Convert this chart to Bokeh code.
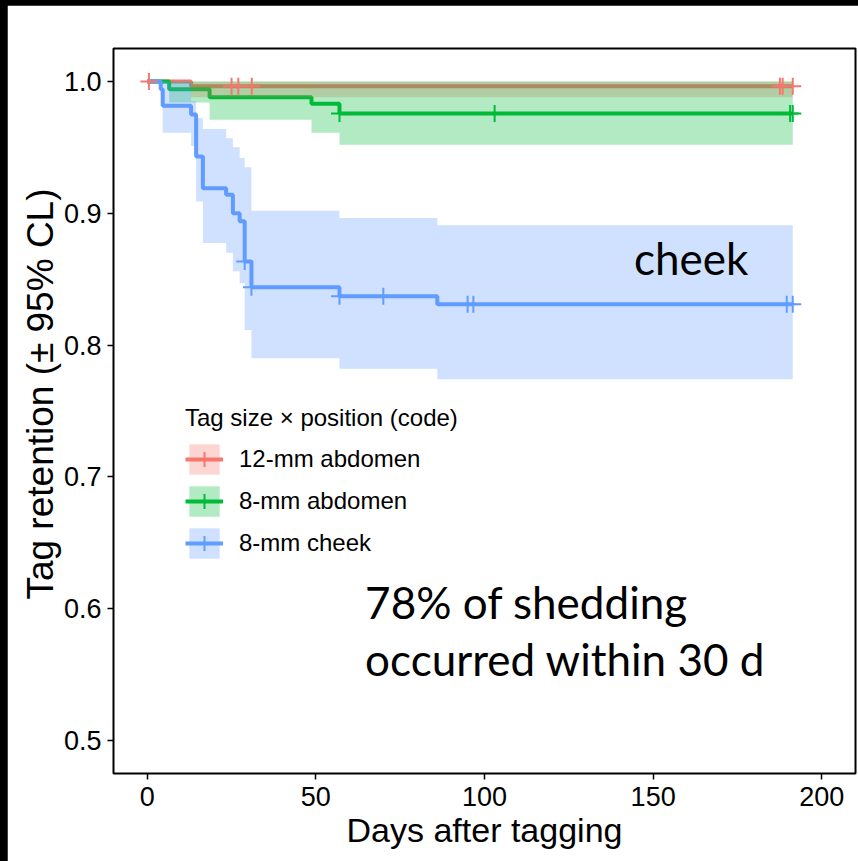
import numpy as np
from bokeh.plotting import figure
from bokeh.models import Legend, LegendItem, Label, FixedTicker, Range1d, Title
from bokeh.layouts import column
from bokeh.embed import file_html
from bokeh.resources import INLINE

# ---- Kaplan-Meier tag retention, step values (start day of each step) ----
groups = ["12-mm abdomen", "8-mm abdomen", "8-mm cheek"]
colors = ["#F8766D", "#00BA38", "#619CFF"]

t_12abd = [0, 13, 191.4]
s_12abd = [1.0, 0.9963, 0.9963]
lo_12abd = [1.0, 0.988, 0.988]
hi_12abd = [1.0, 1.0, 1.0]
cens_12abd = [0.5, 25, 27, 31, 187.6, 188.4, 191.4]

t_8abd = [0, 6.5, 18.5, 48.7, 57, 191.4]
s_8abd = [1.0, 0.994, 0.988, 0.983, 0.9757, 0.9757]
lo_8abd = [1.0, 0.984, 0.971, 0.961, 0.952, 0.952]
hi_8abd = [1.0, 1.0, 1.0, 1.0, 1.0, 1.0]
cens_8abd = [57, 103, 190.6, 191.4]

t_cheek = [0, 4, 4.6, 13, 14.5, 16.5, 23.4, 25.4, 27.4, 28.9, 30.9, 57, 86, 191.4]
s_cheek = [1.0, 0.994, 0.9815, 0.975, 0.943, 0.919, 0.914, 0.900, 0.894,
           0.8635, 0.8438, 0.837, 0.831, 0.831]
lo_cheek = [1.0, 0.982, 0.961, 0.951, 0.909, 0.8775, 0.870, 0.856, 0.847,
            0.8115, 0.790, 0.782, 0.774, 0.774]
hi_cheek = [1.0, 1.0, 1.0, 0.985, 0.972, 0.964, 0.957, 0.950, 0.942,
            0.935, 0.902, 0.8965, 0.891, 0.891]
cens_cheek = [28.9, 30.9, 57, 70, 95, 96.7, 189.6, 191.4]

x_ticks = [0, 50, 100, 150, 200]
y_ticks = [0.5, 0.6, 0.7, 0.8, 0.9, 1.0]
y_tick_labels = ["0.5", "0.6", "0.7", "0.8", "0.9", "1.0"]

series = [
    (t_12abd, s_12abd, lo_12abd, hi_12abd, cens_12abd),
    (t_8abd, s_8abd, lo_8abd, hi_8abd, cens_8abd),
    (t_cheek, s_cheek, lo_cheek, hi_cheek, cens_cheek),
]

SANS = "Liberation Sans"

p = figure(width=851, height=856, output_backend="svg", toolbar_location=None,
           x_range=Range1d(-10, 210), y_range=Range1d(0.475, 1.025),
           min_border_left=106, min_border_right=3, min_border_top=43,
           min_border_bottom=88)
p.margin = (5, 0, 0, 7)
p.background_fill_color = "white"
p.border_fill_color = "white"
p.grid.visible = False
p.outline_line_color = "black"
p.outline_line_width = 2
p.outline_line_alpha = 1

for ax in (p.xaxis[0], p.yaxis[0]):
    ax.axis_line_color = None
    ax.major_tick_out = 6
    ax.major_tick_in = 0
    ax.major_tick_line_width = 1.5
    ax.major_tick_line_color = "black"
    ax.minor_tick_line_color = None
    ax.major_label_text_font = SANS
    ax.major_label_text_font_size = "27px"
    ax.major_label_text_color = "black"
    ax.axis_label_text_font = SANS
    ax.axis_label_text_font_style = "normal"
    ax.axis_label_text_color = "black"

p.xaxis.axis_label_text_font_size = "34px"
p.xaxis.ticker = FixedTicker(ticks=x_ticks)
p.yaxis.ticker = FixedTicker(ticks=y_ticks)
p.yaxis.major_label_overrides = {v: s for v, s in zip(y_ticks, y_tick_labels)}
p.xaxis.axis_label = "Days after tagging"
p.xaxis.major_label_standoff = 7
p.yaxis.major_label_standoff = 6
p.xaxis.axis_label_standoff = 2

# y-axis title as a side title, placed a little above the frame centre
p.add_layout(Title(text="Tag retention (\u00b1 95% CL)", align="right", offset=140,
                   text_font=SANS, text_font_size="37px", text_font_style="normal",
                   text_color="black", standoff=0), "left")

# survival curves first, confidence bands over them, censor marks on top
lines, bands, marks = [], [], []
for (t, s, lo, hi, cens), c in zip(series, colors):
    lines.append(p.step(t, s, mode="after", line_color=c, line_width=4))
for (t, s, lo, hi, cens), c in zip(series, colors):
    bands.append(p.varea_step(x=t, y1=lo, y2=hi, step_mode="after",
                              fill_color=c, fill_alpha=0.3))
for (t, s, lo, hi, cens), c in zip(series, colors):
    idx = np.searchsorted(np.array(t), np.array(cens), side="right") - 1
    cy = [s[i] for i in idx]
    marks.append(p.scatter(cens, cy, marker="cross", size=17, line_color=c,
                           line_width=2))

items = [LegendItem(label=g, renderers=[b, l, m])
         for g, b, l, m in zip(groups, bands, lines, marks)]
legend = Legend(items=items, location=(72, 211), title="Tag size \u00d7 position (code)",
                title_text_font=SANS, title_text_font_size="24px",
                title_text_font_style="normal", title_text_color="black",
                title_standoff=8,
                label_text_font=SANS, label_text_font_size="24px",
                label_text_color="black",
                glyph_width=38, glyph_height=38, spacing=4, label_standoff=16,
                padding=0, margin=0, border_line_alpha=0, background_fill_alpha=0)
p.add_layout(legend, "center")

note_font = "Lato"
p.add_layout(Label(x=144.3, y=0.866, text="cheek", text_font=note_font,
                   text_font_size="44px", text_color="black",
                   text_baseline="alphabetic"))
p.add_layout(Label(x=64.6, y=0.6050, text="78% of shedding", text_font=note_font,
                   text_font_size="44px", text_color="black",
                   text_baseline="alphabetic"))
p.add_layout(Label(x=64.6, y=0.5620, text="occurred within 30 d", text_font=note_font,
                   text_font_size="44px", text_color="black",
                   text_baseline="alphabetic"))

root = column(p, styles={"background-color": "black"}, width=858, height=861)
open("out.html", "w").write(file_html(root, INLINE))
